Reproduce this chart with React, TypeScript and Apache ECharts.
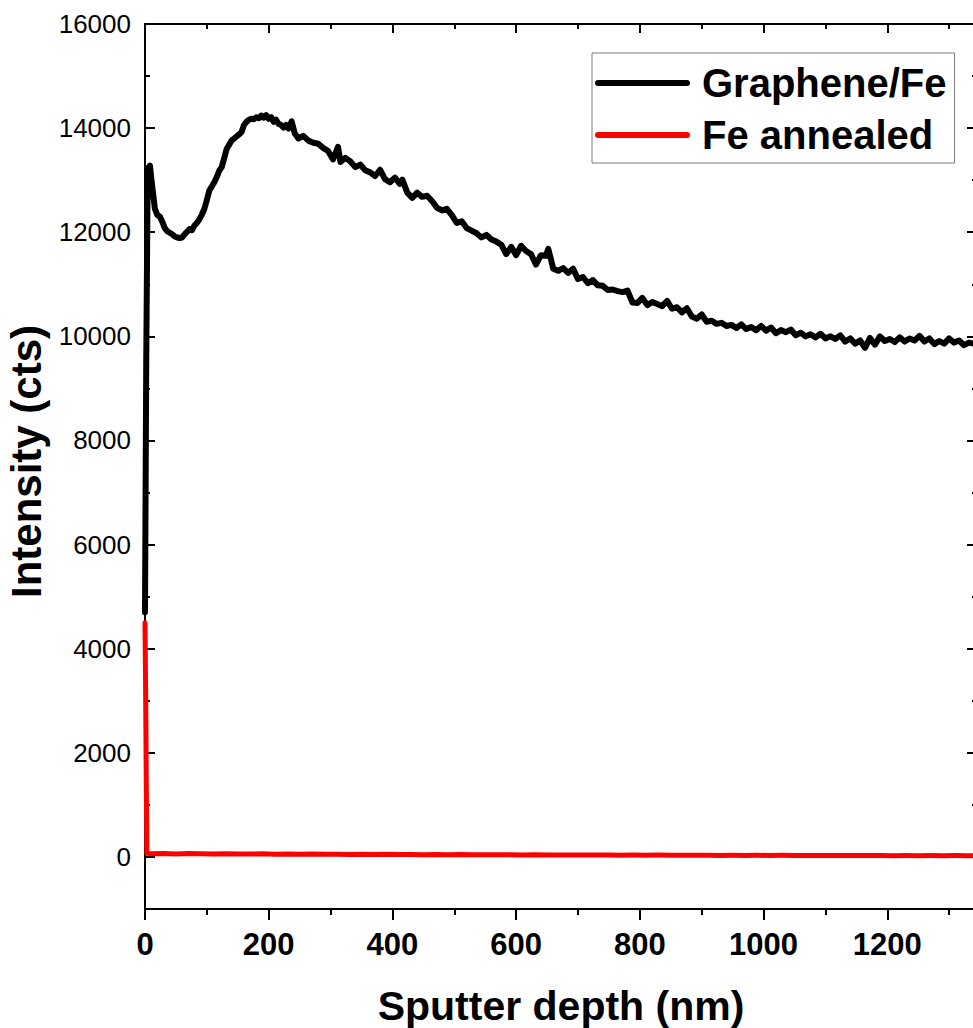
import React, { useEffect, useRef } from "react";
import * as echarts from "echarts";

const FONT = "'Liberation Sans', Arial, sans-serif";

const seriesNames = ["Graphene/Fe", "Fe annealed"];

const grapheneFe: [number, number][] = [
  [0, 4700], [2, 9500], [4, 12600], [6, 13250], [8, 13280], [10, 13050], [13, 12750], [16, 12450],
  [20, 12330], [24, 12300], [28, 12200], [32, 12080], [36, 12020], [40, 11990], [44, 11960], [48, 11920],
  [52, 11900], [56, 11890], [60, 11900], [64, 11960], [68, 12010], [72, 12060], [76, 12040], [80, 12130],
  [84, 12180], [88, 12250], [92, 12340], [96, 12450], [100, 12620], [104, 12800], [108, 12880], [112, 12960],
  [116, 13060], [120, 13180], [124, 13250], [128, 13420], [132, 13600], [136, 13680], [140, 13760], [144, 13800],
  [148, 13840], [152, 13880], [156, 13920], [160, 14060], [164, 14120], [168, 14160], [172, 14180], [176, 14170],
  [180, 14210], [184, 14190], [188, 14240], [192, 14200], [196, 14250], [200, 14180], [204, 14210], [208, 14120],
  [212, 14160], [216, 14080], [220, 14060], [224, 14010], [228, 14060], [232, 13990], [237, 14130], [242, 13900],
  [248, 13800], [256, 13850], [264, 13760], [272, 13720], [280, 13700], [288, 13620], [296, 13560], [304, 13400],
  [312, 13640], [316, 13350], [324, 13430], [332, 13360], [340, 13250], [348, 13300], [356, 13190], [364, 13150],
  [372, 13080], [380, 13200], [388, 13020], [396, 12960], [404, 13050], [412, 12930], [416, 13010], [424, 12760],
  [432, 12660], [440, 12760], [448, 12680], [456, 12700], [464, 12600], [472, 12470], [480, 12420], [488, 12450],
  [496, 12330], [504, 12180], [512, 12210], [520, 12080], [528, 12030], [536, 11980], [544, 11900], [552, 11950],
  [560, 11860], [568, 11820], [576, 11760], [584, 11580], [592, 11720], [600, 11560], [608, 11740], [616, 11640],
  [624, 11580], [632, 11380], [640, 11560], [648, 11550], [652, 11680], [660, 11300], [668, 11260], [676, 11310],
  [684, 11220], [692, 11300], [700, 11100], [708, 11140], [716, 11020], [724, 11080], [732, 10980], [740, 10970],
  [748, 10890], [756, 10900], [764, 10870], [772, 10850], [780, 10880], [788, 10650], [796, 10640], [804, 10740],
  [812, 10600], [820, 10660], [828, 10620], [836, 10580], [844, 10680], [852, 10530], [860, 10560], [868, 10460],
  [876, 10540], [884, 10380], [892, 10340], [900, 10420], [908, 10280], [916, 10300], [924, 10240], [932, 10260],
  [940, 10200], [948, 10220], [956, 10160], [964, 10230], [972, 10140], [980, 10180], [988, 10120], [996, 10200],
  [1004, 10110], [1012, 10170], [1020, 10060], [1028, 10120], [1036, 10080], [1044, 10130], [1052, 10020], [1060, 10070],
  [1068, 10000], [1076, 10040], [1084, 9980], [1092, 10050], [1100, 9960], [1108, 10000], [1116, 9950], [1124, 10020],
  [1132, 9900], [1140, 9960], [1148, 9860], [1156, 9920], [1164, 9780], [1172, 9970], [1180, 9840], [1188, 10000],
  [1196, 9910], [1204, 9950], [1212, 9890], [1220, 9980], [1228, 9900], [1236, 9960], [1244, 9920], [1252, 10010],
  [1260, 9900], [1268, 9960], [1276, 9850], [1284, 9910], [1292, 9860], [1300, 9960], [1308, 9880], [1316, 9920],
  [1324, 9830], [1332, 9880], [1340, 9860], [1345, 9880],
];

const feAnnealed: [number, number][] = [
  [0, 4500], [1, 3200], [2, 1500], [3, 70], [10, 62], [30, 66], [50, 58], [70, 64], [90, 60], [110, 56],
  [130, 62], [150, 58], [170, 55], [190, 60], [210, 54], [230, 57], [250, 52], [270, 55], [290, 50], [310, 53],
  [330, 48], [350, 51], [370, 47], [390, 50], [410, 45], [430, 48], [450, 44], [470, 46], [490, 42], [510, 45],
  [530, 41], [550, 43], [570, 40], [590, 42], [610, 38], [630, 41], [650, 37], [670, 39], [690, 36], [710, 38],
  [730, 35], [750, 37], [770, 34], [790, 36], [810, 33], [830, 35], [850, 32], [870, 34], [890, 31], [910, 33],
  [930, 30], [950, 32], [970, 30], [990, 31], [1010, 29], [1030, 31], [1050, 28], [1070, 30], [1090, 27], [1110, 29],
  [1130, 27], [1150, 28], [1170, 26], [1190, 28], [1210, 25], [1230, 27], [1250, 25], [1270, 26], [1290, 24], [1310, 26],
  [1330, 24], [1345, 25],
];

const xMajorTicks = [0, 200, 400, 600, 800, 1000, 1200];
const xMinorTicks = [100, 300, 500, 700, 900, 1100, 1300];
const yMajorTicks = [0, 2000, 4000, 6000, 8000, 10000, 12000, 14000, 16000];
const yMinorTicks = [1000, 3000, 5000, 7000, 9000, 11000, 13000, 15000];

const X_MIN = 0;
const X_MAX = 1345;
const Y_MIN = -1000;
const Y_MAX = 16000;

const GRID_LEFT = 145;
const GRID_TOP = 24;
const GRID_W = 832;
const GRID_H = 885;

const LEGEND_ICON = "path://M3,0L92,0A3,3,0,0,1,92,6L3,6A3,3,0,0,1,3,0Z";

function ls() {
  return { color: "#000", width: 2 };
}

function tickAxis(
  position: string,
  min: number,
  max: number,
  inside: boolean,
  length: number,
  values: number[],
  showLine: boolean
) {
  return {
    type: "value",
    position,
    min,
    max,
    splitLine: { show: false },
    axisLabel: { show: false },
    axisLine: { show: showLine, onZero: false, lineStyle: ls() },
    axisTick: { show: true, inside, length, customValues: values, lineStyle: ls() },
  };
}

export default function App() {
  const ref = useRef<HTMLDivElement>(null);

  useEffect(() => {
    if (!ref.current) return;
    const chart = echarts.init(ref.current, undefined, { renderer: "svg" });
    chart.setOption({
      animation: false,
      backgroundColor: "#fff",
      grid: {
        left: GRID_LEFT,
        top: GRID_TOP,
        width: GRID_W,
        height: GRID_H,
        outerBoundsMode: "none",
      },
      legend: {
        left: 592,
        top: 53,
        orient: "vertical",
        padding: [10, 8, 8, 3],
        itemGap: 12,
        itemWidth: 95,
        itemHeight: 6,
        borderColor: "#7f7f7f",
        borderWidth: 1,
        backgroundColor: "#fff",
        data: [
          { name: seriesNames[0], icon: LEGEND_ICON, itemStyle: { color: "#000" } },
          { name: seriesNames[1], icon: LEGEND_ICON, itemStyle: { color: "#ff0000" } },
        ],
        textStyle: {
          fontSize: 40,
          fontWeight: "bold",
          color: "#000",
          fontFamily: FONT,
          padding: [0, 0, 0, 7],
        },
      },
      xAxis: [
        {
          type: "value",
          position: "bottom",
          min: X_MIN,
          max: X_MAX,
          name: "Sputter depth (nm)",
          nameLocation: "middle",
          nameGap: 76,
          nameTextStyle: { fontSize: 41, fontWeight: "bold", color: "#000", fontFamily: FONT },
          axisLine: { show: true, onZero: false, lineStyle: ls() },
          axisTick: { show: true, inside: false, length: 11, customValues: xMajorTicks, lineStyle: ls() },
          axisLabel: {
            customValues: xMajorTicks,
            formatter: (v: number) => String(v),
            fontSize: 31,
            fontWeight: "bold",
            color: "#000",
            fontFamily: FONT,
            margin: 20,
          },
          splitLine: { show: false },
        },
        tickAxis("bottom", X_MIN, X_MAX, false, 6, xMinorTicks, false),
        tickAxis("top", X_MIN, X_MAX, true, 9, xMajorTicks, true),
        tickAxis("top", X_MIN, X_MAX, true, 5, xMinorTicks, false),
      ],
      yAxis: [
        {
          type: "value",
          position: "left",
          min: Y_MIN,
          max: Y_MAX,
          name: "Intensity (cts)",
          nameLocation: "middle",
          nameGap: 97,
          nameTextStyle: {
            fontSize: 42,
            fontWeight: "bold",
            color: "#000",
            fontFamily: FONT,
            padding: [0, 0, 0, 10],
          },
          axisLine: { show: true, onZero: false, lineStyle: ls() },
          axisTick: { show: true, inside: true, length: 10, customValues: yMajorTicks, lineStyle: ls() },
          axisLabel: {
            customValues: yMajorTicks,
            formatter: (v: number) => String(v),
            fontSize: 26,
            color: "#000",
            fontFamily: FONT,
            margin: 14,
          },
          splitLine: { show: false },
        },
        tickAxis("left", Y_MIN, Y_MAX, true, 5, yMinorTicks, false),
        tickAxis("right", Y_MIN, Y_MAX, true, 10, yMajorTicks, true),
        tickAxis("right", Y_MIN, Y_MAX, true, 5, yMinorTicks, false),
      ],
      series: [
        {
          name: seriesNames[0],
          type: "line",
          xAxisIndex: 0,
          yAxisIndex: 0,
          data: grapheneFe,
          showSymbol: false,
          symbol: "none",
          itemStyle: { color: "#000" },
          lineStyle: { color: "#000", width: 6, cap: "round", join: "round" },
          z: 3,
        },
        {
          name: seriesNames[1],
          type: "line",
          xAxisIndex: 0,
          yAxisIndex: 0,
          data: feAnnealed,
          showSymbol: false,
          symbol: "none",
          itemStyle: { color: "#ff0000" },
          lineStyle: { color: "#ff0000", width: 5, cap: "round", join: "round" },
          z: 4,
        },
      ],
    });
    return () => chart.dispose();
  }, []);

  return (
    <div
      ref={ref}
      style={{ position: "absolute", left: 0, top: 0, width: 973, height: 1028, background: "#fff" }}
    />
  );
}
